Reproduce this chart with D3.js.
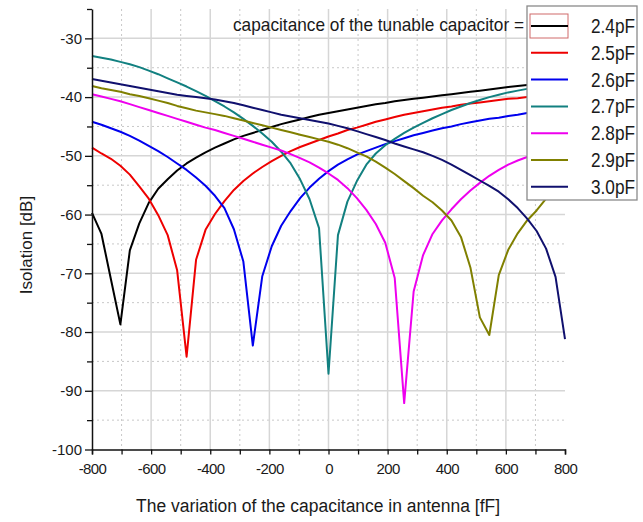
<!DOCTYPE html>
<html><head><meta charset="utf-8">
<script src="https://cdn.jsdelivr.net/npm/d3@7"></script>
<style>
html,body{margin:0;padding:0;background:#fff;}
svg{display:block;font-family:"Liberation Sans",Arial,sans-serif;}
</style></head>
<body><svg id="chart" width="643" height="522"></svg>
<script>
// ---- data ----
const xs = [-800,-768,-736,-704,-672,-640,-608,-576,-544,-512,-480,-448,-416,-384,-352,-320,-288,-256,-224,-192,-160,-128,-96,-64,-32,0,32,64,96,128,160,192,224,256,288,320,352,384,416,448,480,512,544,576,608,640,672,704,736,768,800];
const c24 = [-59.7,-63.3,-71.0,-78.7,-66.1,-61.5,-58.0,-55.6,-54.0,-52.5,-51.3,-50.3,-49.4,-48.6,-47.9,-47.2,-46.6,-46.1,-45.6,-45.1,-44.6,-44.2,-43.8,-43.4,-43.0,-42.7,-42.4,-42.1,-41.8,-41.5,-41.2,-41.0,-40.7,-40.5,-40.3,-40.1,-39.9,-39.7,-39.5,-39.3,-39.1,-38.9,-38.7,-38.5,-38.3,-38.1,-37.95,-37.8,-37.7,-37.6,-37.5];
const c25 = [-48.6,-49.6,-50.5,-51.7,-53.2,-55.2,-57.3,-60.1,-63.5,-69.5,-84.2,-67.7,-62.6,-59.9,-57.7,-55.8,-54.3,-53.0,-51.9,-50.9,-50.0,-49.2,-48.5,-47.9,-47.3,-46.7,-46.2,-45.6,-45.2,-44.7,-44.2,-43.8,-43.4,-43.0,-42.7,-42.4,-42.1,-41.8,-41.6,-41.3,-41.1,-40.9,-40.7,-40.5,-40.3,-40.2,-40.0,-39.9,-39.7,-39.6,-39.5];
const c26 = [-44.2,-44.7,-45.3,-45.9,-46.6,-47.4,-48.3,-49.2,-50.2,-51.3,-52.4,-53.7,-55.1,-56.8,-58.9,-62.5,-68.0,-82.3,-70.5,-65.4,-61.9,-59.4,-57.2,-55.4,-53.9,-52.6,-51.5,-50.6,-49.8,-49.2,-48.6,-48.0,-47.5,-47.0,-46.5,-46.1,-45.7,-45.3,-45.0,-44.6,-44.3,-44.0,-43.7,-43.5,-43.2,-43.0,-42.7,-42.5,-42.3,-42.1,-41.9];
const c27 = [-33.0,-33.3,-33.6,-34.0,-34.4,-34.9,-35.5,-36.1,-36.8,-37.5,-38.2,-39.0,-39.8,-40.7,-41.6,-42.6,-43.7,-44.9,-46.2,-47.6,-49.3,-51.3,-54.0,-57.4,-62.3,-87.1,-63.5,-57.8,-54.3,-51.5,-49.6,-48.2,-47.1,-46.1,-45.2,-44.4,-43.6,-42.9,-42.2,-41.6,-41.0,-40.5,-40.0,-39.6,-39.2,-38.9,-38.6,-38.4,-38.2,-38.0,-37.8];
const c28 = [-39.5,-39.9,-40.3,-40.7,-41.2,-41.7,-42.2,-42.7,-43.2,-43.7,-44.2,-44.7,-45.2,-45.6,-46.1,-46.6,-47.1,-47.6,-48.1,-48.6,-49.1,-49.7,-50.4,-51.1,-52.0,-53.0,-54.1,-55.5,-57.2,-59.2,-61.6,-64.8,-70.8,-92.1,-73.1,-66.9,-63.3,-61.0,-59.1,-57.4,-55.9,-54.6,-53.4,-52.4,-51.5,-50.8,-50.2,-49.6,-49.1,-48.6,-48.1];
const c29 = [-38.1,-38.5,-38.8,-39.1,-39.5,-39.8,-40.2,-40.6,-41.0,-41.5,-41.9,-42.3,-42.6,-42.9,-43.2,-43.6,-44.0,-44.4,-44.8,-45.2,-45.6,-46.0,-46.4,-46.8,-47.2,-47.6,-48.1,-48.7,-49.4,-50.1,-51.0,-52.0,-53.1,-54.3,-55.5,-56.8,-57.9,-59.3,-61.0,-63.8,-69.0,-77.5,-80.5,-70.3,-66.0,-63.2,-61.0,-59.3,-57.3,-55.8,-54.5];
const c30 = [-36.9,-37.2,-37.5,-37.8,-38.1,-38.4,-38.7,-39.0,-39.3,-39.6,-39.8,-40.0,-40.2,-40.4,-40.7,-41.0,-41.4,-41.8,-42.2,-42.6,-43.0,-43.3,-43.6,-43.9,-44.2,-44.5,-44.9,-45.3,-45.8,-46.3,-46.8,-47.3,-47.9,-48.4,-48.9,-49.4,-50.0,-50.7,-51.5,-52.4,-53.3,-54.2,-55.1,-56.1,-57.4,-58.9,-60.7,-62.8,-65.8,-70.6,-81.2];
const seriesNames = ["2.4pF","2.5pF","2.6pF","2.7pF","2.8pF","2.9pF","3.0pF"];
const seriesValues = [c24,c25,c26,c27,c28,c29,c30];
const xTickLabels = [-800,-600,-400,-200,0,200,400,600,800];
const yTickLabels = [-100,-90,-80,-70,-60,-50,-40,-30];
const legendTitle = "capacitance of the tunable capacitor =";
const xTitle = "The variation of the capacitance in antenna [fF]";
const yTitle = "Isolation [dB]";

// ---- styles ----
const colors = ["#000000","#ee0000","#0000ee","#128080","#ee00ee","#808000","#10106e"];

const svg = d3.select("#chart");
svg.append("rect").attr("width",643).attr("height",522).attr("fill","#fff");

const x = d3.scaleLinear().domain([-800,800]).range([92,565]);
const y = d3.scaleLinear().domain([-100,-25]).range([449.5,9]);

// grid
const grid = svg.append("g");
const minorX = d3.range(-700,800,200);
const minorY = d3.range(-95,-25,10);
grid.selectAll(".gxm").data(minorX).join("line")
  .attr("x1",d=>x(d)).attr("x2",d=>x(d)).attr("y1",y(-25)).attr("y2",y(-100))
  .attr("stroke","#c8c8c8").attr("stroke-width",1).attr("stroke-dasharray","2,3");
grid.selectAll(".gym").data(minorY).join("line")
  .attr("x1",x(-800)).attr("x2",x(800)).attr("y1",d=>y(d)).attr("y2",d=>y(d))
  .attr("stroke","#c8c8c8").attr("stroke-width",1).attr("stroke-dasharray","2,3");
grid.selectAll(".gx").data(xTickLabels.filter(d=>d>-800&&d<800)).join("line")
  .attr("x1",d=>x(d)).attr("x2",d=>x(d)).attr("y1",y(-25)).attr("y2",y(-100))
  .attr("stroke","#d6d6d6").attr("stroke-width",1.5);
grid.selectAll(".gy").data(yTickLabels.filter(d=>d>-100)).join("line")
  .attr("x1",x(-800)).attr("x2",x(800)).attr("y1",d=>y(d)).attr("y2",d=>y(d))
  .attr("stroke","#d6d6d6").attr("stroke-width",1.5);

// curves
const line = d3.line().x((d,i)=>x(xs[i])).y(d=>y(d));
svg.append("g").selectAll("path").data(seriesValues).join("path")
  .attr("d",d=>line(d)).attr("fill","none")
  .attr("stroke",(d,i)=>colors[i]).attr("stroke-width",2).attr("stroke-linejoin","round");

// axes
const xAxis = d3.axisBottom(x).tickValues(d3.range(-800,801,100)).tickSize(5)
  .tickFormat(d=>xTickLabels.includes(d)?d:"");
const gx = svg.append("g").attr("transform",`translate(0,${y(-100)})`).call(xAxis);
gx.select(".domain").attr("stroke","#111").attr("stroke-width",1.5);
gx.selectAll(".tick line").attr("stroke","#111").attr("stroke-width",1.3);
gx.selectAll(".tick text").attr("font-size",15).attr("fill","#1a1a1a").attr("dy",null).attr("y",24)
  .attr("font-family","'Liberation Sans',Arial,sans-serif").attr("letter-spacing","-0.6px");

const yAxis = d3.axisLeft(y).tickValues(d3.range(-100,-24,5)).tickSize(0).tickFormat(d=>yTickLabels.includes(d)?d:"");
const gy = svg.append("g").attr("transform",`translate(${x(-800)},0)`).call(yAxis);
gy.select(".domain").attr("stroke","#111").attr("stroke-width",1.5);
gy.selectAll(".tick line").attr("x2",d=>yTickLabels.includes(d)?-7:-5).attr("stroke","#111").attr("stroke-width",1.3);
gy.selectAll(".tick text").attr("font-size",15).attr("fill","#1a1a1a").attr("x",-10)
  .attr("font-family","'Liberation Sans',Arial,sans-serif");

// axis titles
svg.append("text").attr("x",318).attr("y",512).attr("text-anchor","middle")
  .attr("font-size",18).attr("fill","#1a1a1a").attr("textLength",364).attr("lengthAdjust","spacingAndGlyphs").text(xTitle);
svg.append("text").attr("transform","translate(32,245) rotate(-90)").attr("text-anchor","middle")
  .attr("font-size",17).attr("fill","#1a1a1a").text(yTitle);

// legend
svg.append("text").attr("x",233).attr("y",31).attr("font-size",19).attr("fill","#1a1a1a")
  .attr("textLength",291).attr("lengthAdjust","spacingAndGlyphs").text(legendTitle);
const lg = svg.append("g");
lg.append("rect").attr("x",527).attr("y",6).attr("width",110).attr("height",194)
  .attr("fill","#fff").attr("stroke","#8a8a8a").attr("stroke-width",1.3);
const rowY = i => 26 + i*26.8;
lg.append("rect").attr("x",530).attr("y",14).attr("width",38).attr("height",24)
  .attr("fill","none").attr("stroke","#d06a6a").attr("stroke-width",1);
lg.selectAll(".ll").data(seriesNames).join("line")
  .attr("x1",531).attr("x2",568).attr("y1",(d,i)=>rowY(i)).attr("y2",(d,i)=>rowY(i))
  .attr("stroke",(d,i)=>colors[i]).attr("stroke-width",2);
lg.selectAll(".lt").data(seriesNames).join("text")
  .attr("x",635).attr("y",(d,i)=>rowY(i)+7).attr("text-anchor","end")
  .attr("font-size",20).attr("fill","#1a1a1a").attr("textLength",44).attr("lengthAdjust","spacingAndGlyphs")
  .text(d=>d);
</script></body></html>
